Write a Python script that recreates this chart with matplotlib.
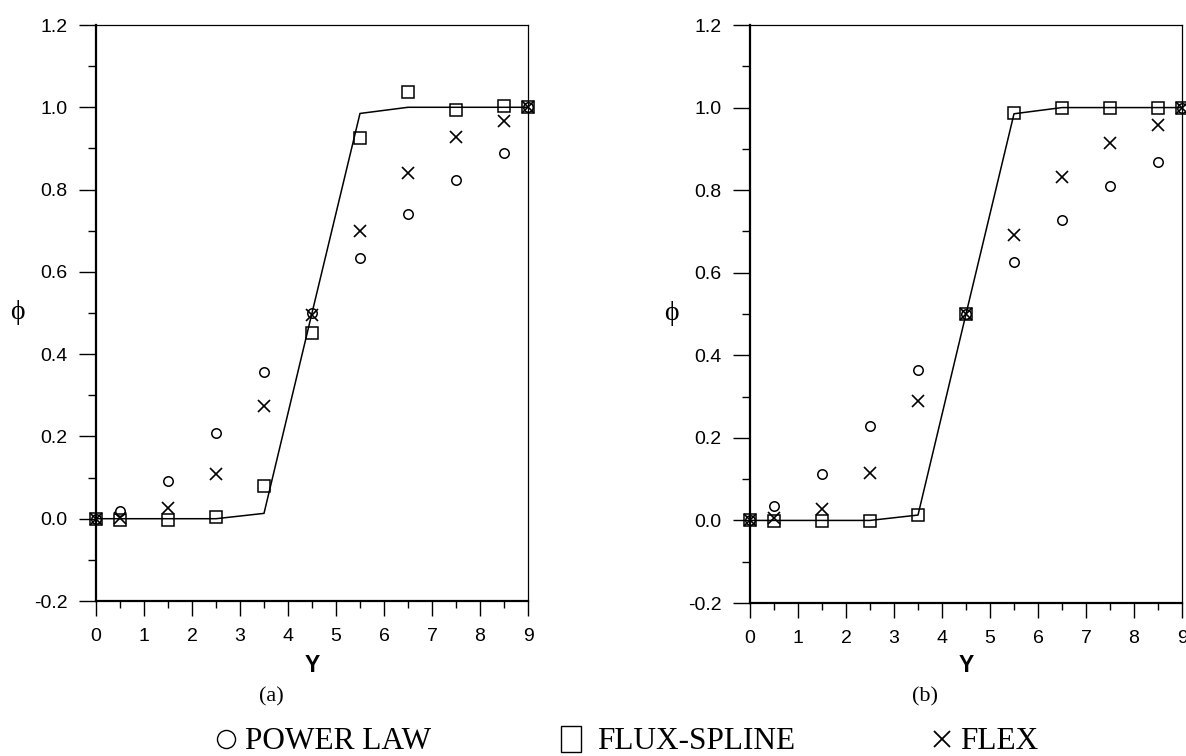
import matplotlib
matplotlib.use("Agg")
import matplotlib.pyplot as plt
from matplotlib.lines import Line2D
from matplotlib.patches import Rectangle
from matplotlib.ticker import MultipleLocator

# ---------------------------------------------------------------- data
y_pos = [0, 0.5, 1.5, 2.5, 3.5, 4.5, 5.5, 6.5, 7.5, 8.5, 9]

exact = [0, 0, 0, 0, 0.013, 0.5, 0.985, 1.0, 1.0, 1.0, 1.0]

power_a = [0, 0.019, 0.092, 0.209, 0.356, 0.501, 0.634, 0.741, 0.824, 0.888, 1.0]
spline_a = [0, -0.002, -0.003, 0.005, 0.080, 0.452, 0.925, 1.037, 0.993, 1.003, 1.0]
flex_a = [0, 0.002, 0.027, 0.109, 0.275, 0.495, 0.700, 0.841, 0.928, 0.967, 1.0]

power_b = [0, 0.034, 0.112, 0.228, 0.364, 0.5, 0.625, 0.728, 0.810, 0.868, 1.0]
spline_b = [0, -0.002, -0.002, -0.002, 0.012, 0.5, 0.986, 1.0, 1.0, 1.0, 1.0]
flex_b = [0, 0.005, 0.027, 0.116, 0.289, 0.5, 0.691, 0.831, 0.914, 0.957, 1.0]

panels = [("(a)", power_a, spline_a, flex_a), ("(b)", power_b, spline_b, flex_b)]

W, H = 1186, 756
SANS = ["Liberation Sans", "DejaVu Sans"]
SERIF = ["Liberation Serif", "DejaVu Serif"]


def fx(px):
    return px / W


def fy(py):
    return 1 - py / H


fig = plt.figure(figsize=(W / 100, H / 100), dpi=100)

# axes boxes in pixels: left, top, right, bottom
boxes = [(96, 25, 528, 601), (750, 25, 1182, 603)]

for (l, t, r, b), (tag, pw, sp, fl) in zip(boxes, panels):
    ax = fig.add_axes([fx(l), fy(b), (r - l) / W, (b - t) / H])
    ax.set_xlim(0, 9)
    ax.set_ylim(-0.2, 1.2)

    ax.plot(y_pos, exact, color="black", lw=1.1, zorder=2)
    ax.plot(y_pos, pw, ls="none", marker="o", ms=6.8, mfc="none", mec="black",
            mew=1.1, clip_on=False, zorder=3)
    ax.plot(y_pos, sp, ls="none", marker="s", ms=8, mfc="none", mec="black",
            mew=1.1, clip_on=False, zorder=3)
    ax.plot(y_pos, fl, ls="none", marker="x", ms=8.5, mec="black",
            mew=1.2, clip_on=False, zorder=3)

    for side in ("left", "bottom"):
        ax.spines[side].set_linewidth(1.6)
    for side in ("top", "right"):
        ax.spines[side].set_linewidth(0.9)

    ax.xaxis.set_major_locator(MultipleLocator(1))
    ax.xaxis.set_minor_locator(MultipleLocator(0.5))
    ax.yaxis.set_minor_locator(MultipleLocator(0.1))
    ax.set_yticks([-0.2, 0.0, 0.2, 0.4, 0.6, 0.8, 1.0, 1.2])
    ax.set_yticklabels(["-0.2", "0.0", "0.2", "0.4", "0.6", "0.8", "1.0", "1.2"])

    ax.tick_params(axis="x", which="major", direction="out", length=10.5, width=1.0, pad=9,
                   labelsize=14)
    ax.tick_params(axis="x", which="minor", direction="out", length=5, width=1.0)
    ax.tick_params(axis="y", which="major", direction="out", length=12, width=1.0, pad=8.5,
                   labelsize=14)
    ax.tick_params(axis="y", which="minor", direction="out", length=6, width=1.0)
    for lab in ax.get_xticklabels() + ax.get_yticklabels():
        lab.set_family(SANS)

    # axis labels and panel tag
    mid = (l + r) / 2
    fig.text(fx(mid), fy(665), "Y", fontsize=16.5, fontweight="bold", family=SANS,
             ha="center", va="center")
    fig.text(fx(l - 79), fy((t + b) / 2), "\u03d5", fontsize=20, family=SERIF,
             ha="center", va="center")
    fig.text(fx(mid - 41), fy(697), tag, fontsize=16, family=SERIF,
             ha="center", va="center")

# ---------------------------------------------------------------- legend row
base = fy(749)
fig.add_artist(Line2D([fx(226)], [fy(739)], marker="o", ms=13, mfc="none", mec="black",
                      mew=1.0, ls="none"))
fig.text(fx(245), base, "POWER LAW", fontsize=22.5, family=SERIF, ha="left", va="baseline")

fig.add_artist(Rectangle((fx(561), fy(752)), 20 / W, 26 / H, fill=False, ec="black",
                         lw=1.0, transform=fig.transFigure))
fig.text(fx(597), base, "FLUX-SPLINE", fontsize=22.5, family=SERIF, ha="left", va="baseline")

fig.add_artist(Line2D([fx(942)], [fy(739)], marker="x", ms=12, mec="black",
                      mew=1.3, ls="none"))
fig.text(fx(960), base, "FLEX", fontsize=22.5, family=SERIF, ha="left", va="baseline")

fig.savefig("out.png", dpi=100)
